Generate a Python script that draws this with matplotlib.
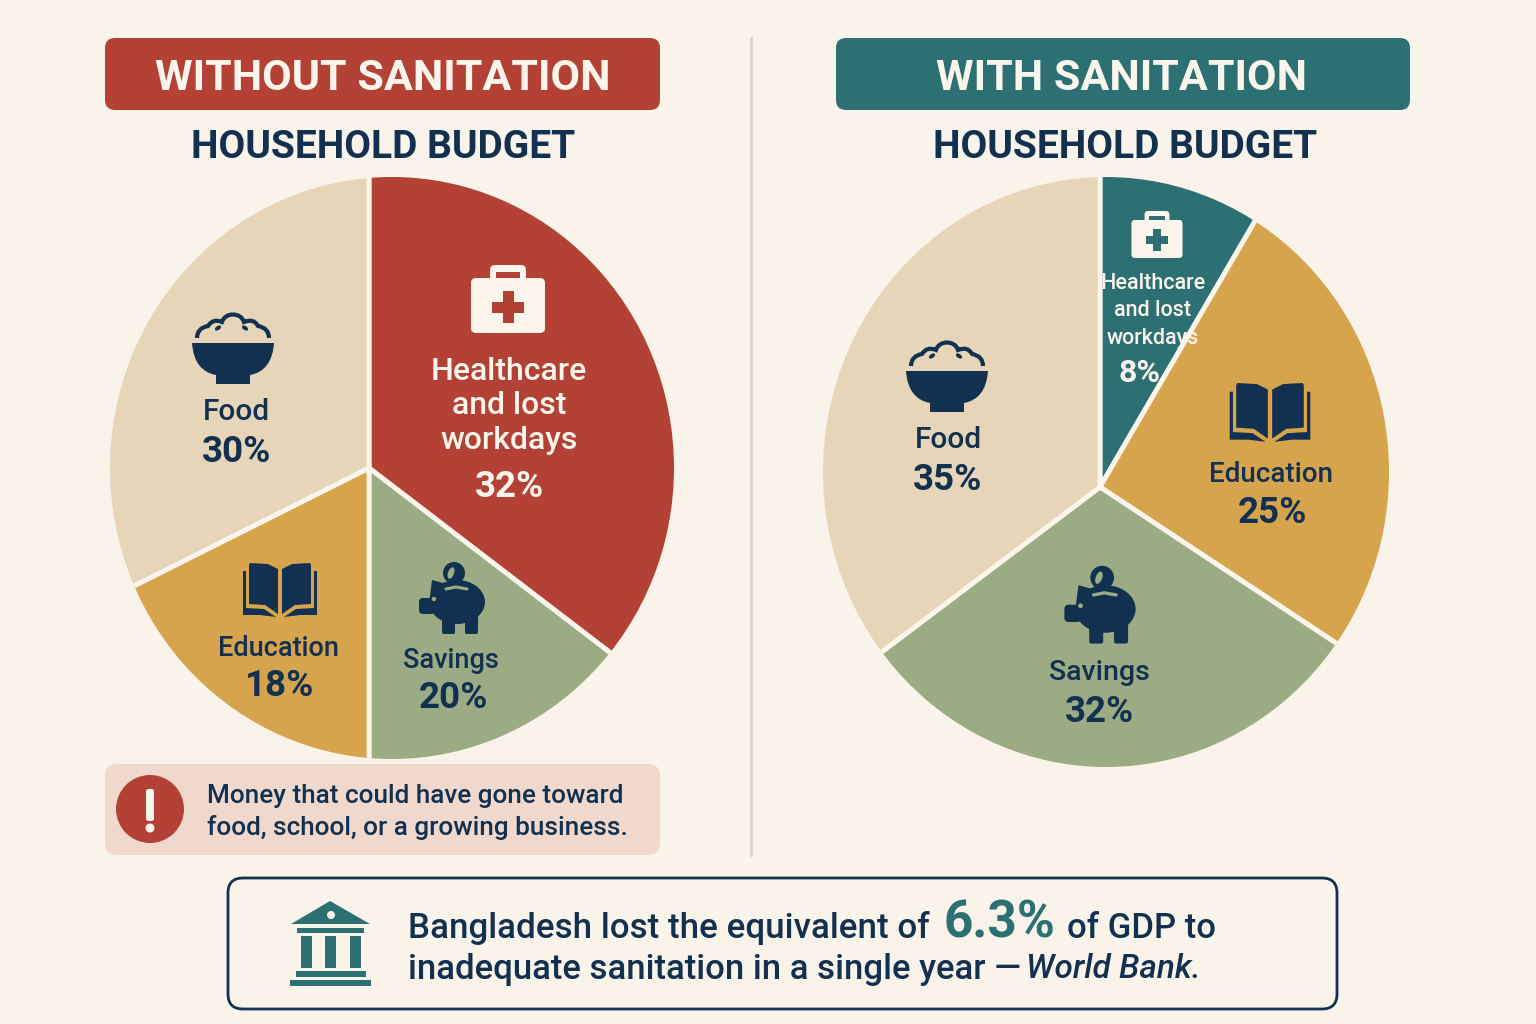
import matplotlib
matplotlib.use("Agg")
import matplotlib.pyplot as plt
from matplotlib.patches import Circle, Ellipse, FancyBboxPatch, PathPatch, Polygon, Rectangle
from matplotlib.path import Path

plt.rcParams['font.family'] = ['Roboto', 'DejaVu Sans']

left_categories = ["Healthcare\nand lost\nworkdays", "Savings", "Education", "Food"]
right_categories = ["Healthcare\nand lost\nworkdays", "Education", "Savings", "Food"]
# percentages printed on the chart
left_percent = [32, 20, 18, 30]
right_percent = [8, 25, 32, 35]
# slice sizes as drawn in the picture, they do not quite follow the printed numbers
left_drawn = [35.4, 14.6, 17.6, 32.4]
right_drawn = [8.4, 25.9, 30.4, 35.3]
panel_titles = ["WITHOUT SANITATION", "WITH SANITATION"]
subtitle = "HOUSEHOLD BUDGET"

BG = "#FAF3E9"
RED = "#B34135"
TEAL = "#2C7073"
SAND = "#E6D5B8"
GOLD = "#D6A44C"
SAGE = "#9BAC84"
NAVY = "#12304F"
CREAM = "#FBF5EC"
left_colors = [RED, SAGE, GOLD, SAND]
right_colors = [TEAL, GOLD, SAGE, SAND]

fig = plt.figure(figsize=(15.36, 10.24), dpi=100, facecolor=BG)
ax = fig.add_axes([0, 0, 1, 1])


def Y(y):
    return 1024 - y


def box(x0, y0, x1, y1, r, fc, ec="none", lw=0, z=1):
    p = FancyBboxPatch((x0 + r, Y(y1) + r), x1 - x0 - 2 * r, y1 - y0 - 2 * r,
                       boxstyle=f"round,pad={r},rounding_size={r}", fc=fc, ec=ec, lw=lw, zorder=z)
    ax.add_patch(p)
    return p


def label(x, y, s, size, color=NAVY, weight=500, ha="center", style="normal", spacing=1.2):
    # y is nudged because matplotlib centres on the full line box
    ax.text(x, Y(y + 2), s, fontsize=size, color=color, fontweight=weight, ha=ha, va="center",
            fontstyle=style, zorder=6, linespacing=spacing)


def draw_pie(shares, colors, apex, center, rx, ry):
    # slices start at the top and run clockwise, cut to the outline of the disc
    wedges, _ = ax.pie(shares, colors=colors, startangle=90, counterclock=False,
                       center=(apex[0], Y(apex[1])), radius=420,
                       wedgeprops=dict(edgecolor=CREAM, linewidth=3.5), frame=True)
    disc = Ellipse((center[0], Y(center[1])), 2 * rx, 2 * ry, fc="none", ec="none")
    ax.add_patch(disc)
    for w in wedges:
        w.set_clip_on(True)
        w.set_clip_path(disc)
        w.set_zorder(2)


def medkit(cx, cy, s, fc, cut):
    handle = FancyBboxPatch((cx - 15 * s, Y(cy - 18 * s)), 30 * s, 21 * s,
                            boxstyle=f"round,pad={3*s},rounding_size={5*s}", fc=fc, ec="none", zorder=4)
    ax.add_patch(handle)
    ax.add_patch(Rectangle((cx - 12 * s, Y(cy - 28 * s)), 24 * s, 7 * s, fc=cut, ec="none", zorder=4.5))
    body = FancyBboxPatch((cx - 33 * s, Y(cy + 22 * s)), 66 * s, 47 * s,
                          boxstyle=f"round,pad={4*s},rounding_size={5*s}", fc=fc, ec="none", zorder=5)
    ax.add_patch(body)
    ax.add_patch(Rectangle((cx - 16 * s, Y(cy) - 5.5 * s), 32 * s, 11 * s, fc=cut, ec="none", zorder=6))
    ax.add_patch(Rectangle((cx - 5.5 * s, Y(cy) - 16 * s), 11 * s, 32 * s, fc=cut, ec="none", zorder=6))


def bowl(cx, rim, fc, bg):
    ry = Y(rim)
    verts = [(cx - 41, ry), (cx + 41, ry), (cx + 39, ry - 28), (cx + 17, ry - 32), (cx + 17, ry - 41),
             (cx - 17, ry - 41), (cx - 17, ry - 32), (cx - 39, ry - 28), (cx - 41, ry), (cx - 41, ry)]
    codes = [Path.MOVETO, Path.LINETO, Path.CURVE3, Path.CURVE3, Path.LINETO,
             Path.LINETO, Path.LINETO, Path.CURVE3, Path.CURVE3, Path.CLOSEPOLY]
    ax.add_patch(PathPatch(Path(verts, codes), fc=fc, ec="none", zorder=5))
    rice = [(cx - 36, ry + 5), (cx - 36, ry + 15), (cx - 25, ry + 17), (cx - 20, ry + 25), (cx - 11, ry + 21),
            (cx - 8, ry + 31), (cx + 8, ry + 31), (cx + 11, ry + 21), (cx + 21, ry + 25), (cx + 25, ry + 17),
            (cx + 36, ry + 15), (cx + 36, ry + 5)]
    rice_codes = [Path.MOVETO, Path.CURVE3, Path.CURVE3, Path.CURVE3, Path.CURVE3,
                  Path.CURVE4, Path.CURVE4, Path.CURVE4, Path.CURVE3, Path.CURVE3, Path.CURVE3, Path.CURVE3]
    ax.add_patch(PathPatch(Path(rice, rice_codes), fc="none", ec=fc, lw=3, zorder=5))
    ax.add_patch(Ellipse((cx - 15, ry + 15), 7, 4, angle=35, fc=fc, ec="none", zorder=5))
    ax.add_patch(Ellipse((cx + 12, ry + 15), 7, 4, angle=-35, fc=fc, ec="none", zorder=5))


def book(cx, top, s, fc):
    t = Y(top)
    for d in (-1, 1):
        page = [(cx + d * 2 * s, t - 6 * s), (cx + d * 12 * s, t - 1 * s), (cx + d * 30 * s, t), (cx + d * 31 * s, t - 2 * s),
                (cx + d * 31 * s, t - 41 * s), (cx + d * 15 * s, t - 42 * s), (cx + d * 2 * s, t - 51 * s)]
        ax.add_patch(Polygon(page, fc=fc, ec="none", zorder=5))
        cover = [(cx + d * 32 * s, t - 8 * s), (cx + d * 37 * s, t - 8 * s), (cx + d * 37 * s, t - 52 * s),
                 (cx + d * 20 * s, t - 52 * s), (cx + d * 4 * s, t - 54 * s), (cx + d * 16 * s, t - 46 * s),
                 (cx + d * 34 * s, t - 45 * s), (cx + d * 34 * s, t - 8 * s)]
        ax.add_patch(Polygon(cover, fc=fc, ec="none", zorder=5))


def pig(cx, cy, s, fc, bg):
    y = Y(cy)
    ax.add_patch(Ellipse((cx + 5 * s, y), 56 * s, 44 * s, fc=fc, ec="none", zorder=5))
    ax.add_patch(Circle((cx + 2 * s, y + 29 * s), 11 * s, fc=fc, ec="none", zorder=4))
    ax.add_patch(Ellipse((cx - 1 * s, y + 29 * s), 6 * s, 12 * s, angle=-20, fc=bg, ec="none", zorder=4.5))
    ax.add_patch(Polygon([(cx - 22 * s, y + 6 * s), (cx - 20 * s, y + 22 * s), (cx - 5 * s, y + 18 * s)], fc=fc, ec="none", zorder=5))
    ax.add_patch(FancyBboxPatch((cx - 31 * s, y - 10 * s), 12 * s, 12 * s,
                                boxstyle=f"round,pad={2*s},rounding_size={4*s}", fc=fc, ec="none", zorder=5))
    for lx in (-9, 14):
        ax.add_patch(FancyBboxPatch((cx + lx * s, y - 31 * s), 11 * s, 18 * s,
                                    boxstyle=f"round,pad={1*s},rounding_size={2*s}", fc=fc, ec="none", zorder=5))
    ax.add_patch(Circle((cx - 18 * s, y + 3 * s), 2.2 * s, fc=bg, ec="none", zorder=6))
    ax.plot([cx - 6 * s, cx + 4 * s, cx + 15 * s], [y + 13 * s, y + 15 * s, y + 13 * s],
            color=bg, lw=2.2 * s, zorder=6, solid_capstyle="round")


def bank(fc, bg):
    ax.add_patch(Polygon([(330, Y(901)), (370, Y(924)), (291, Y(924))], fc=fc, ec="none", zorder=5))
    ax.add_patch(Circle((331, Y(915)), 4, fc=bg, ec="none", zorder=6))
    ax.add_patch(Rectangle((297, Y(933)), 67, 5, fc=fc, ec="none", zorder=5))
    for x in (301, 325, 350):
        ax.add_patch(Rectangle((x, Y(968)), 10.5, 32, fc=fc, ec="none", zorder=5))
    ax.add_patch(Rectangle((296, Y(977)), 70, 6, fc=fc, ec="none", zorder=5))
    ax.add_patch(Rectangle((290, Y(986)), 81, 6, fc=fc, ec="none", zorder=5))


draw_pie(left_drawn, left_colors, (369, 468), (392, 468), 282, 291)
draw_pie(right_drawn, right_colors, (1100, 487), (1106, 472), 283, 295)
ax.set_xlim(0, 1536)
ax.set_ylim(0, 1024)
ax.set_aspect("auto")
ax.set_xticks([])
ax.set_yticks([])
ax.set_frame_on(False)

box(105, 38, 660, 110, 10, RED)
box(836, 38, 1410, 110, 10, TEAL)
ax.plot([751, 751], [Y(38), Y(855)], color="#DCD3C4", lw=2, zorder=1)
label(383, 76, panel_titles[0], 31, CREAM, 600)
label(1121, 76, panel_titles[1], 31, CREAM, 600)
label(383, 145, subtitle, 28, NAVY, 700)
label(1125, 145, subtitle, 28, NAVY, 700)

# left pie labels
medkit(508, 307, 1, CREAM, RED)
label(509, 404, left_categories[0], 23, CREAM, 500, spacing=1.26)
label(510, 485, f"{left_percent[0]}%", 26.5, CREAM, 600)
bowl(233, 343, NAVY, SAND)
label(236, 410, left_categories[3], 21.5)
label(237, 450, f"{left_percent[3]}%", 26.5, NAVY, 600)
book(280, 563, 1, NAVY)
label(279, 646, left_categories[2], 19.5)
label(280, 684, f"{left_percent[2]}%", 26.5, NAVY, 600)
pig(452, 602, 1, NAVY, SAGE)
label(451, 659, left_categories[1], 19.5)
label(453, 696, f"{left_percent[1]}%", 26.5, NAVY, 600)

# right pie labels
medkit(1157, 240, 0.69, CREAM, TEAL)
label(1153, 309, right_categories[0], 15.5, CREAM, 500, spacing=1.43)
label(1139, 371, f"{right_percent[0]}%", 23, CREAM, 600)
bowl(947, 371, NAVY, SAND)
label(948, 438, right_categories[3], 21.5)
label(948, 478, f"{right_percent[3]}%", 26.5, NAVY, 600)
book(1270, 383, 1.09, NAVY)
label(1271, 472, right_categories[1], 20)
label(1272, 511, f"{right_percent[1]}%", 26.5, NAVY, 600)
pig(1100, 609, 1.08, NAVY, SAGE)
label(1099, 670, right_categories[2], 20.5)
label(1100, 710, f"{right_percent[2]}%", 26.5, NAVY, 600)

# warning note
box(105, 764, 660, 855, 12, "#F0D9CC")
ax.add_patch(Circle((150, Y(809)), 34, fc=RED, ec="none", zorder=4))
ax.add_patch(FancyBboxPatch((148, Y(819)), 4, 28, boxstyle="round,pad=2,rounding_size=2.5", fc=CREAM, ec="none", zorder=5))
ax.add_patch(Circle((150, Y(828)), 4.5, fc=CREAM, ec="none", zorder=5))
label(207, 794, "Money that could have gone toward", 18.8, NAVY, 500, ha="left")
label(207, 826, "food, school, or a growing business.", 18.8, NAVY, 500, ha="left")

# bottom source box
box(228, 878, 1337, 1009, 15, BG, NAVY, 2)
bank(TEAL, BG)
label(408, 926, "Bangladesh lost the equivalent of", 25.2, NAVY, 500, ha="left")
label(944, 921, "6.3%", 37, TEAL, 600, ha="left")
label(1067, 926, "of GDP to", 25, NAVY, 500, ha="left")
label(408, 967, "inadequate sanitation in a single year \u2014", 25, NAVY, 500, ha="left")
label(1026, 967, "World Bank.", 24, NAVY, 500, ha="left", style="italic")

fig.savefig("out.png", dpi=100, facecolor=BG)
